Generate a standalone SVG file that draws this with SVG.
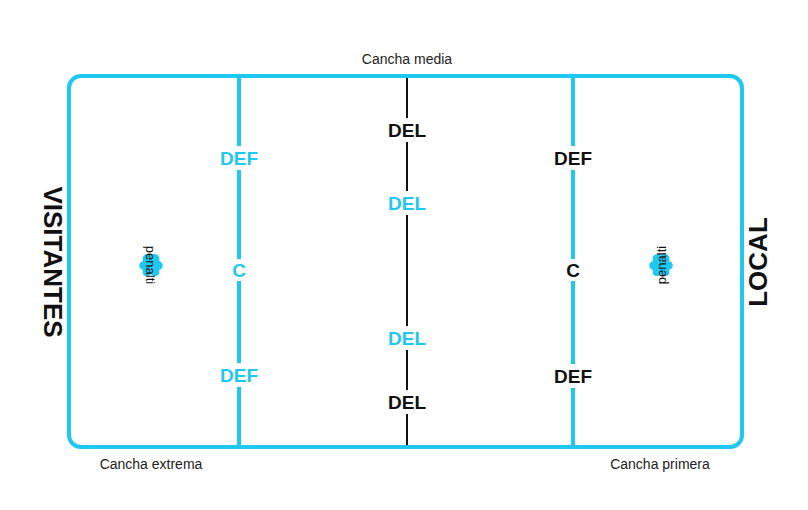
<svg xmlns="http://www.w3.org/2000/svg" width="808" height="510" viewBox="0 0 808 510">
<style>
.cy{stroke:#1ec8f0;fill:none}
.lbl{font-family:"Liberation Sans",Arial,sans-serif;font-weight:bold;font-size:19px;text-anchor:middle}
.c{fill:#1ec8f0}
.k{fill:#111}
.sm{font-family:"Liberation Sans",Arial,sans-serif;font-size:14px;fill:#222;text-anchor:middle}
.big{font-family:"Liberation Sans",Arial,sans-serif;font-weight:bold;font-size:26px;fill:#111;text-anchor:middle}
.pen{font-family:"Liberation Sans",Arial,sans-serif;font-size:13px;fill:#111;text-anchor:middle}
.bg{fill:#fff}
</style>
<defs>
<path id="blob" d="M0,-10 C5,-13 10,-9 8,-4 C13,-3 13,4 8,5 C10,11 4,13 0,9 C-4,13 -10,11 -8,5 C-13,4 -13,-3 -8,-4 C-10,-9 -5,-13 0,-10 Z" fill="#1ec8f0"/>
</defs>
<rect width="808" height="510" fill="#fff"/>
<g id="field">
<rect class="cy" x="69" y="76" width="673" height="371" rx="12" stroke-width="4"/>
</g>
<g id="connectors">
<line class="cy" x1="239" y1="76" x2="239" y2="447" stroke-width="4"/>
<line class="cy" x1="573" y1="76" x2="573" y2="447" stroke-width="4"/>
<line x1="407" y1="78" x2="407" y2="445" stroke="#111" stroke-width="2"/>
</g>
<g id="n-def-l1"><rect class="bg" x="218" y="146" width="42" height="24"/><text class="lbl c" x="239" y="165">DEF</text></g>
<g id="n-c-l"><rect class="bg" x="229" y="259" width="20" height="22"/><text class="lbl c" x="239" y="277">C</text></g>
<g id="n-def-l2"><rect class="bg" x="218" y="363" width="42" height="24"/><text class="lbl c" x="239" y="382">DEF</text></g>
<g id="n-del-1"><rect class="bg" x="386" y="118" width="42" height="24"/><text class="lbl k" x="407" y="137">DEL</text></g>
<g id="n-del-2"><rect class="bg" x="386" y="191" width="42" height="24"/><text class="lbl c" x="407" y="210">DEL</text></g>
<g id="n-del-3"><rect class="bg" x="386" y="326" width="42" height="24"/><text class="lbl c" x="407" y="345">DEL</text></g>
<g id="n-del-4"><rect class="bg" x="386" y="390" width="42" height="24"/><text class="lbl k" x="407" y="409">DEL</text></g>
<g id="n-def-r1"><rect class="bg" x="552" y="146" width="42" height="24"/><text class="lbl k" x="573" y="165">DEF</text></g>
<g id="n-c-r"><rect class="bg" x="563" y="259" width="20" height="22"/><text class="lbl k" x="573" y="277">C</text></g>
<g id="n-def-r2"><rect class="bg" x="552" y="364" width="42" height="24"/><text class="lbl k" x="573" y="383">DEF</text></g>
<g id="n-pen-l"><use href="#blob" x="151" y="265"/><text class="pen" transform="translate(146,265) rotate(90)">penalti</text></g>
<g id="n-pen-r"><use href="#blob" x="661" y="265"/><text class="pen" transform="translate(666,265) rotate(-90)">penalti</text></g>
<g id="n-visitantes"><text class="big" transform="translate(44,262) rotate(90)">VISITANTES</text></g>
<g id="n-local"><text class="big" transform="translate(767,262) rotate(-90)">LOCAL</text></g>
<g id="n-media"><text class="sm" x="407" y="64">Cancha media</text></g>
<g id="n-extrema"><text class="sm" x="151" y="469">Cancha extrema</text></g>
<g id="n-primera"><text class="sm" x="660" y="469">Cancha primera</text></g>
</svg>
